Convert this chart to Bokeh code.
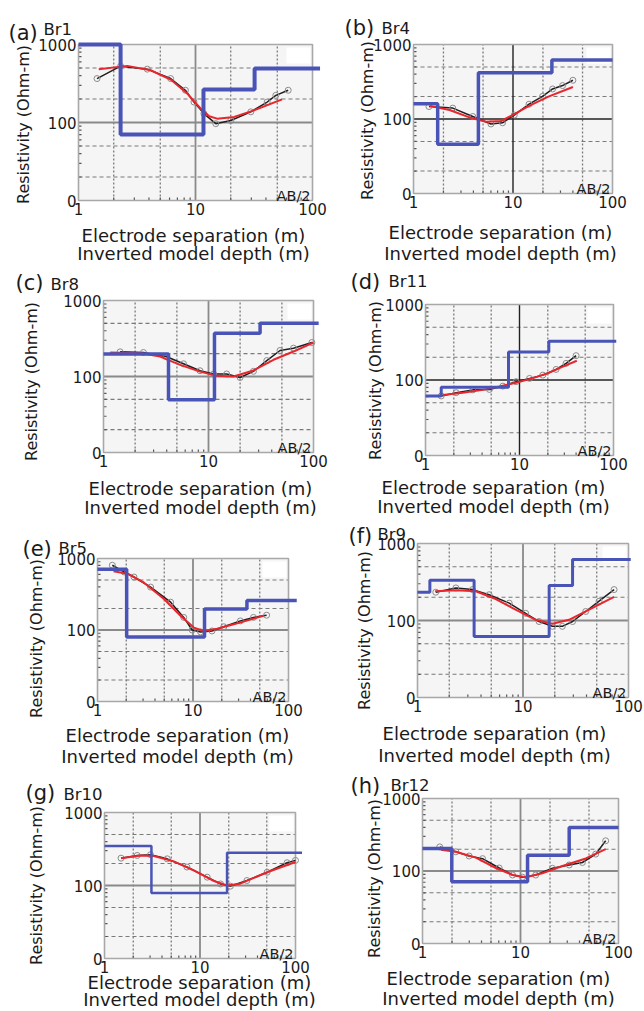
import math
from bokeh.plotting import figure
from bokeh.layouts import column, row
from bokeh.models import Range1d, Label
from bokeh.core.properties import value
from bokeh.embed import file_html
from bokeh.resources import INLINE

FONT = "DejaVu Sans"

# ---------------- text / ticks ----------------
panel_letters = ["(a)", "(b)", "(c)", "(d)", "(e)", "(f)", "(g)", "(h)"]
borehole_names = ["Br1", "Br4", "Br8", "Br11", "Br5", "Br9", "Br10", "Br12"]
x_tick_values = [1, 10, 100]
x_tick_labels = ["1", "10", "100"]
y_tick_values = [10, 100, 1000]
y_tick_labels = ["0", "100", "1000"]
x_grid_values = [2, 5, 20, 50]
y_grid_values = [20, 50, 200, 500]
x_minor_ticks = [2, 3, 4, 5, 6, 7, 8, 9, 20, 30, 40, 50, 60, 70, 80, 90]
y_minor_ticks = [20, 30, 40, 50, 60, 70, 80, 90, 200, 300, 400, 500, 600, 700, 800, 900]
x_label_1 = "Electrode separation (m)"
x_label_2 = "Inverted model depth (m)"
y_label = "Resistivity (Ohm-m)"
corner_label = "AB/2"

# ---------------- data ----------------
# (a) Br1
a_layer_bottoms = [2.29, 11.7, 32.0]
a_layer_rho = [1000, 70, 264, 492]
a_model_end = 116
a_obs_x = [1.44, 2.29, 3.87, 6.13, 8.2, 9.7, 11.8, 14.9, 20, 29.7, 41, 48.6, 62]
a_obs_y = [366, 527, 483, 366, 259, 183, 130, 96.6, 106, 137, 183, 223, 259]
a_fit_x = [1.49, 2.61, 4.14, 6.13, 8.5, 11.1, 13.1, 15.3, 21.4, 31.6, 55]
a_fit_y = [483, 532, 468, 355, 235, 150, 120, 112, 118, 143, 198]

# (b) Br4
b_layer_bottoms = [1.75, 4.49, 24.6]
b_layer_rho = [160, 45.8, 417, 619]
b_model_end = 100
b_obs_x = [1.43, 2.48, 3.94, 6.0, 7.85, 10.3, 14.5, 19.8, 25, 31.5, 40]
b_obs_y = [147, 140, 108, 85.8, 89, 113, 158, 201, 253, 281, 331]
b_fit_x = [1.45, 2.3, 3.65, 5.36, 7.6, 9.9, 14.5, 23, 40]
b_fit_y = [150, 132, 105, 92, 94, 113, 150, 201, 269]

# (c) Br8
c_layer_bottoms = [4.16, 11.4, 31.0]
c_layer_rho = [197, 49.3, 372, 503]
c_model_end = 112
c_obs_x = [1.44, 2.4, 4.0, 5.78, 8.3, 11.2, 14.9, 20, 26.8, 35.9, 48, 64.5, 96.5]
c_obs_y = [211, 207, 182, 147, 119, 108, 108, 97, 117, 162, 220, 236, 280]
c_fit_x = [1.16, 2.23, 3.46, 5.37, 8.3, 12, 17.3, 26.8, 41.6, 64.5, 100]
c_fit_y = [207, 203, 183, 142, 116, 102, 100, 120, 166, 213, 280]

# (d) Br11
d_layer_bottoms = [1.47, 7.64, 20.5]
d_layer_rho = [61.5, 80, 235, 327]
d_model_end = 107
d_obs_x = [1.47, 2.12, 3.19, 4.79, 6.65, 9.2, 12.8, 17.7, 24.5, 31.3, 40]
d_obs_y = [61.5, 68, 74, 75, 83, 95, 105, 116, 138, 166, 210]
d_fit_x = [1.53, 2.49, 4.07, 6.12, 9.2, 13.9, 20.8, 28.9, 40.7]
d_fit_y = [63.4, 68, 74, 82, 92, 106, 125, 150, 180]

# (e) Br5
e_layer_bottoms = [2.02, 13.2, 36.7]
e_layer_rho = [706, 80, 197, 258]
e_model_end = 122
e_obs_x = [1.43, 1.9, 2.41, 3.6, 5.83, 8.0, 9.8, 12, 15.8, 21, 31.3, 43, 59]
e_obs_y = [805, 648, 551, 398, 245, 150, 100, 94, 97, 111, 134, 150, 161]
e_fit_x = [1.47, 2.06, 3.07, 4.97, 7.4, 10.2, 13, 17.9, 26.7, 54.7]
e_fit_y = [663, 614, 458, 272, 158, 108, 97, 104, 120, 158]

# (f) Br9
f_layer_bottoms = [1.31, 3.44, 17.7, 29.5]
f_layer_rho = [233, 333, 62, 284, 619]
f_model_end = 105
f_obs_x = [1.49, 2.31, 3.32, 4.77, 7.4, 10.6, 14.2, 19.0, 23.6, 29.5, 39.3, 52.6, 73]
f_obs_y = [233, 265, 252, 216, 168, 124, 97, 84, 84, 97, 131, 178, 252]
f_fit_x = [1.47, 2.31, 3.57, 5.52, 8.5, 13.2, 19.0, 27.3, 42.4, 73]
f_fit_y = [240, 247, 240, 190, 138, 102, 91, 102, 138, 203]

# (g) Br10
g_layer_bottoms = [3.1, 19.2]
g_layer_rho = [348, 79, 282]
g_model_end = 117
g_obs_x = [1.49, 2.2, 3.03, 4.53, 7.3, 11.9, 16.4, 20.8, 31, 50.5, 81.6, 100]
g_obs_y = [237, 258, 264, 232, 179, 130, 105, 98, 117, 152, 205, 221]
g_fit_x = [1.49, 2.38, 3.28, 5.3, 8.6, 14, 19.2, 26.4, 50.5, 100]
g_fit_y = [237, 258, 253, 214, 161, 115, 100, 106, 152, 210]

# (h) Br12
h_layer_bottoms = [1.99, 11.8, 31.4]
h_layer_rho = [204, 71, 165, 398]
h_model_end = 100
h_obs_x = [1.5, 2.19, 2.99, 4.1, 6.06, 8.3, 10.5, 14.3, 21.2, 31.4, 42.8, 58.5, 74]
h_obs_y = [215, 184, 161, 148, 110, 88, 82, 88, 109, 121, 131, 171, 261]
h_fit_x = [1.54, 2.19, 3.5, 5.6, 8.3, 11.3, 16.7, 26.8, 46.4, 74]
h_fit_y = [196, 184, 153, 110, 88, 82, 93, 117, 149, 200]

panels_data = [
    (a_layer_bottoms, a_layer_rho, a_model_end, a_obs_x, a_obs_y, a_fit_x, a_fit_y),
    (b_layer_bottoms, b_layer_rho, b_model_end, b_obs_x, b_obs_y, b_fit_x, b_fit_y),
    (c_layer_bottoms, c_layer_rho, c_model_end, c_obs_x, c_obs_y, c_fit_x, c_fit_y),
    (d_layer_bottoms, d_layer_rho, d_model_end, d_obs_x, d_obs_y, d_fit_x, d_fit_y),
    (e_layer_bottoms, e_layer_rho, e_model_end, e_obs_x, e_obs_y, e_fit_x, e_fit_y),
    (f_layer_bottoms, f_layer_rho, f_model_end, f_obs_x, f_obs_y, f_fit_x, f_fit_y),
    (g_layer_bottoms, g_layer_rho, g_model_end, g_obs_x, g_obs_y, g_fit_x, g_fit_y),
    (h_layer_bottoms, h_layer_rho, h_model_end, h_obs_x, h_obs_y, h_fit_x, h_fit_y),
]

# ---------------- layout (page pixel geometry) ----------------
PAGE_W = 644
ROW_Y = [0, 265, 518, 766]
ROW_H = [265, 253, 248, 245]
ROW_SPLIT = [334, 336, 330, 330]   # x of the boundary between left and right cell in each row

GEO = [
    dict(L=78, R=312, T=44, B=200, tl=(8, 32), bl=(43, 29), xl=(193, 235, 253), yl=(23, 124), bw=4.0, patch=True),
    dict(L=413, R=612, T=44, B=193, tl=(344, 27), bl=(381, 28), xl=(500, 232, 253), yl=(367, 120), bw=3.5, patch=True),
    dict(L=103, R=313, T=300, B=452, tl=(15, 282), bl=(50, 284), xl=(200, 488, 507), yl=(31, 381), bw=3.5, patch=True),
    dict(L=425, R=613, T=304, B=455, tl=(350, 281), bl=(388, 281), xl=(493, 487, 506), yl=(375, 380), bw=3.0, patch=True),
    dict(L=97, R=288, T=558, B=701, tl=(22, 548), bl=(58, 548), xl=(177, 735, 756), yl=(36, 638), bw=3.5, patch=True),
    dict(L=417, R=628, T=543, B=697, tl=(348, 535), bl=(377, 534), xl=(494, 733, 755), yl=(364, 630), bw=3.0, patch=True),
    dict(L=104, R=295, T=812, B=958, tl=(25, 792), bl=(63, 794), xl=(199, 982, 999), yl=(36, 885), bw=2.5, patch=True),
    dict(L=422, R=618, T=798, B=943, tl=(350, 785), bl=(390, 785), xl=(498, 978, 998), yl=(374, 878), bw=3.5, patch=False),
]
DARK_MAJOR = [False, True, False, True, False, False, False, False]

BG = "#f5f5f5"
FRAME = "#a8a8a8"
GRID = "#7a7a7a"
BLUE = "#4a54b6"
RED = "#e8262d"
TXT = "#1a1a1a"


def step_xy(bottoms, rhos, end):
    xs = [x_tick_values[0]]
    ys = [rhos[0]]
    for d, r0, r1 in zip(bottoms, rhos[:-1], rhos[1:]):
        xs += [d, d]
        ys += [r0, r1]
    xs.append(end)
    ys.append(rhos[-1])
    return xs, ys


def make_panel(i):
    r, c = divmod(i, 2)
    split = ROW_SPLIT[r]
    x0, W = (0, split) if c == 0 else (split, PAGE_W - split)
    y0, H = ROW_Y[r], ROW_H[r]
    g = GEO[i]
    L, R, T, B = g["L"], g["R"], g["T"], g["B"]
    bottoms, rhos, mend, ox, oy, fx, fy = panels_data[i]
    xmin, xmax = x_tick_values[0], x_tick_values[-1]
    ymin, ymax = y_tick_values[0], y_tick_values[-1]
    ppx = (R - L) / math.log10(xmax / xmin)   # pixels per decade
    ppy = (B - T) / math.log10(ymax / ymin)
    x_lo = xmin * 10 ** (-(L - x0) / ppx)
    x_hi = xmax * 10 ** ((x0 + W - R) / ppx)
    y_lo = ymin * 10 ** (-(y0 + H - B) / ppy)
    y_hi = ymax * 10 ** ((T - y0) / ppy)

    p = figure(width=W, height=H, x_axis_type="log", y_axis_type="log",
               x_range=Range1d(x_lo, x_hi), y_range=Range1d(y_lo, y_hi),
               x_axis_location=None, y_axis_location=None,
               output_backend="svg", toolbar_location=None,
               min_border_left=0, min_border_right=0, min_border_top=0, min_border_bottom=0)
    p.background_fill_color = "white"
    p.border_fill_color = "white"
    p.outline_line_color = None
    p.grid.visible = False

    # panel background and white legend patch
    p.quad(left=[xmin], right=[xmax], bottom=[ymin], top=[ymax], fill_color=BG, line_color=None)
    if g["patch"]:
        p.quad(left=[xmax * 10 ** (-26 / ppx)], right=[xmax * 10 ** (-2 / ppx)],
               bottom=[ymax * 10 ** (-19 / ppy)], top=[ymax * 10 ** (-3 / ppy)],
               fill_color="white", line_color=None)
    # grid
    p.segment(x0=x_grid_values, y0=[ymin] * len(x_grid_values), x1=x_grid_values, y1=[ymax] * len(x_grid_values),
              line_color=GRID, line_width=1.3, line_dash="2 2")
    p.segment(x0=[xmin] * len(y_grid_values), y0=y_grid_values, x1=[xmax] * len(y_grid_values), y1=y_grid_values,
              line_color=GRID, line_width=1.1, line_dash="4 3")
    major_col = "#222222" if DARK_MAJOR[i] else "#8a8a8a"
    major_w = 1.4 if DARK_MAJOR[i] else 1.8
    p.segment(x0=[x_tick_values[1]], y0=[ymin], x1=[x_tick_values[1]], y1=[ymax], line_color=major_col, line_width=major_w)
    p.segment(x0=[xmin], y0=[y_tick_values[1]], x1=[xmax], y1=[y_tick_values[1]], line_color=major_col, line_width=major_w)
    # inward ticks
    p.segment(x0=x_minor_ticks, y0=[ymin] * len(x_minor_ticks), x1=x_minor_ticks,
              y1=[ymin * 10 ** (3 / ppy)] * len(x_minor_ticks), line_color="#555555", line_width=1.2)
    p.segment(x0=[xmin] * len(y_minor_ticks), y0=y_minor_ticks, x1=[xmin * 10 ** (3 / ppx)] * len(y_minor_ticks),
              y1=y_minor_ticks, line_color="#555555", line_width=1.2)
    # frame
    p.quad(left=[xmin], right=[xmax], bottom=[ymin], top=[ymax], fill_color=None, line_color=FRAME, line_width=1.6)

    # tick labels
    p.text(x=x_tick_values, y=[ymin] * 3, text=x_tick_labels, y_offset=2,
           text_font=value(FONT), text_font_size=value("15px"), text_color=TXT,
           text_align="center", text_baseline="top")
    p.text(x=[xmin] * 3, y=y_tick_values, text=y_tick_labels, x_offset=-2,
           text_font=value(FONT), text_font_size=value("15px"), text_color=TXT,
           text_align="right", text_baseline="middle")

    # data
    p.line(ox, oy, line_color="#1e1e1e", line_width=1.5)
    p.scatter(ox, oy, marker="circle", size=6, fill_color=None, line_color="#8c8c8c", line_width=1)
    p.line(fx, fy, line_color=RED, line_width=2)
    mx, my = step_xy(bottoms, rhos, mend)
    p.line(mx, my, line_color=BLUE, line_width=g["bw"])

    def lab(text, xy, size, align="left", baseline="alphabetic", angle=0.0):
        p.add_layout(Label(x=xy[0] - x0, y=(y0 + H) - xy[1], x_units="screen", y_units="screen",
                           text=text, text_font=FONT, text_font_size=size, text_color=TXT,
                           text_align=align, text_baseline=baseline, angle=angle))

    lab(panel_letters[i], g["tl"], "21px")
    lab(borehole_names[i], g["bl"], "16.5px")
    cx, b1, b2 = g["xl"]
    lab(x_label_1, (cx, b1), "18px", align="center")
    lab(x_label_2, (cx, b2), "18px", align="center")
    lab(y_label, g["yl"], "16px", align="center", baseline="middle", angle=math.pi / 2)
    lab(corner_label, (R - 2, B - 5), "14.5px", align="right")
    return p


figs = [make_panel(i) for i in range(8)]
layout = column(row(figs[0], figs[1]), row(figs[2], figs[3]), row(figs[4], figs[5]), row(figs[6], figs[7]))
open("out.html", "w").write(file_html(layout, INLINE))
